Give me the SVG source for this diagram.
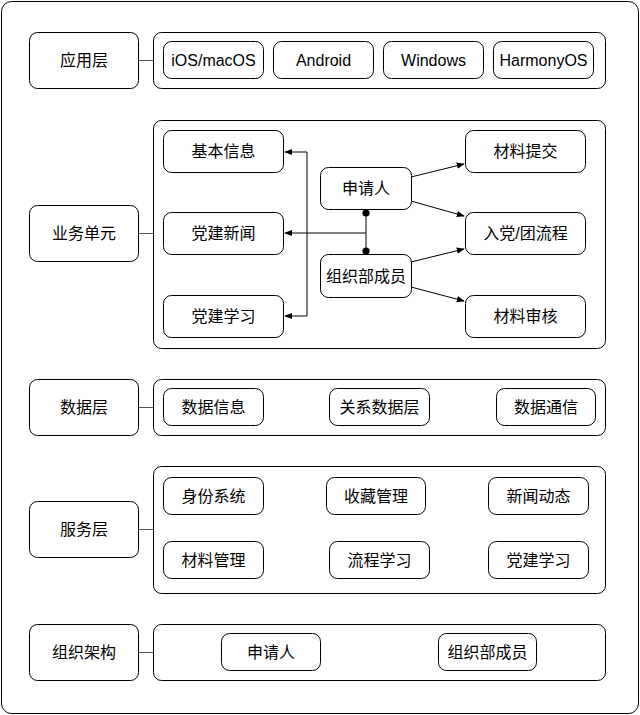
<svg xmlns="http://www.w3.org/2000/svg" width="640" height="715" viewBox="0 0 640 715">
<defs>
<style>
.b{fill:#fff;stroke:#000;stroke-width:1}
.t{font-family:"Liberation Sans","Noto Sans CJK SC",sans-serif;font-size:16px;fill:#000;text-anchor:middle;dominant-baseline:central}
.c{fill:none;stroke:#000;stroke-width:1}
.g{fill:none;stroke:#555;stroke-width:1}
</style>
<marker id="ar" viewBox="0 0 10 10" refX="9" refY="5" markerWidth="8" markerHeight="8" orient="auto" markerUnits="userSpaceOnUse"><path d="M0,1 L10,5 L0,9 Z" fill="#000"/></marker>
<marker id="dot" viewBox="0 0 10 10" refX="5" refY="5" markerWidth="8" markerHeight="8" markerUnits="userSpaceOnUse"><circle cx="5" cy="5" r="4.5" fill="#000"/></marker>
</defs>
<rect x="1.5" y="1.5" width="637" height="712" rx="10" class="b"/>

<g id="layer-app"><rect x="29.5" y="32.5" width="109" height="56" rx="8" class="b"/><text x="84" y="60" class="t">应用层</text></g>
<g id="app-container"><rect x="153.5" y="32.5" width="452" height="56" rx="8" class="b"/></g>
<g id="ios"><rect x="163.5" y="41.5" width="100" height="37" rx="8" class="b"/><text x="213.5" y="60" class="t">iOS/macOS</text></g>
<g id="android"><rect x="273.5" y="41.5" width="100" height="37" rx="8" class="b"/><text x="323.5" y="60" class="t">Android</text></g>
<g id="windows"><rect x="383.5" y="41.5" width="100" height="37" rx="8" class="b"/><text x="433.5" y="60" class="t">Windows</text></g>
<g id="harmony"><rect x="493.5" y="41.5" width="100" height="37" rx="8" class="b"/><text x="543.5" y="60" class="t">HarmonyOS</text></g>

<g id="layer-biz"><rect x="29.5" y="205.5" width="109" height="56" rx="8" class="b"/><text x="84" y="233" class="t">业务单元</text></g>
<g id="biz-container"><rect x="153.5" y="120.5" width="452" height="228" rx="8" class="b"/></g>
<g id="jbxx"><rect x="163.5" y="130.5" width="120" height="42" rx="8" class="b"/><text x="223.5" y="151.5" class="t">基本信息</text></g>
<g id="djxw"><rect x="163.5" y="212.5" width="120" height="42" rx="8" class="b"/><text x="223.5" y="233.5" class="t">党建新闻</text></g>
<g id="djxx"><rect x="163.5" y="295.5" width="120" height="42" rx="8" class="b"/><text x="223.5" y="316.5" class="t">党建学习</text></g>
<g id="sqr"><rect x="320.5" y="167.5" width="91" height="42" rx="8" class="b"/><text x="366" y="188.5" class="t">申请人</text></g>
<g id="zzbcy"><rect x="320.5" y="254.5" width="91" height="43" rx="8" class="b"/><text x="366" y="276" class="t">组织部成员</text></g>
<g id="cltj"><rect x="465.5" y="130.5" width="120" height="42" rx="8" class="b"/><text x="525.5" y="151.5" class="t">材料提交</text></g>
<g id="rdlc"><rect x="465.5" y="212.5" width="120" height="42" rx="8" class="b"/><text x="525.5" y="233.5" class="t">入党/团流程</text></g>
<g id="clsh"><rect x="465.5" y="295.5" width="120" height="42" rx="8" class="b"/><text x="525.5" y="316.5" class="t">材料审核</text></g>

<g id="layer-data"><rect x="29.5" y="379.5" width="109" height="56" rx="8" class="b"/><text x="84" y="407" class="t">数据层</text></g>
<g id="data-container"><rect x="153.5" y="379.5" width="452" height="56" rx="8" class="b"/></g>
<g id="sjxx"><rect x="163.5" y="388.5" width="100" height="37" rx="8" class="b"/><text x="213.5" y="407" class="t">数据信息</text></g>
<g id="gxsjc"><rect x="329.5" y="388.5" width="100" height="37" rx="8" class="b"/><text x="379.5" y="407" class="t">关系数据层</text></g>
<g id="sjtx"><rect x="496.5" y="388.5" width="99" height="37" rx="8" class="b"/><text x="546" y="407" class="t">数据通信</text></g>

<g id="layer-svc"><rect x="29.5" y="501.5" width="109" height="56" rx="8" class="b"/><text x="84" y="529" class="t">服务层</text></g>
<g id="svc-container"><rect x="153.5" y="466.5" width="452" height="127" rx="8" class="b"/></g>
<g id="sfxt"><rect x="163.5" y="477.5" width="100" height="37" rx="8" class="b"/><text x="213.5" y="496" class="t">身份系统</text></g>
<g id="scgl"><rect x="326.5" y="477.5" width="99" height="37" rx="8" class="b"/><text x="376" y="496" class="t">收藏管理</text></g>
<g id="xwdt"><rect x="488.5" y="477.5" width="100" height="37" rx="8" class="b"/><text x="538.5" y="496" class="t">新闻动态</text></g>
<g id="clgl"><rect x="163.5" y="541.5" width="100" height="37" rx="8" class="b"/><text x="213.5" y="560" class="t">材料管理</text></g>
<g id="lcxx"><rect x="329.5" y="541.5" width="100" height="37" rx="8" class="b"/><text x="379.5" y="560" class="t">流程学习</text></g>
<g id="djxx2"><rect x="488.5" y="541.5" width="100" height="37" rx="8" class="b"/><text x="538.5" y="560" class="t">党建学习</text></g>

<g id="layer-org"><rect x="29.5" y="624.5" width="109" height="56" rx="8" class="b"/><text x="84" y="652" class="t">组织架构</text></g>
<g id="org-container"><rect x="153.5" y="624.5" width="452" height="56" rx="8" class="b"/></g>
<g id="org-sqr"><rect x="221.5" y="633.5" width="99" height="37" rx="8" class="b"/><text x="271" y="652" class="t">申请人</text></g>
<g id="org-zzbcy"><rect x="438.5" y="633.5" width="98" height="37" rx="8" class="b"/><text x="487.5" y="652" class="t">组织部成员</text></g>

<g id="connectors">
<line x1="139" y1="60.5" x2="153" y2="60.5" class="g"/>
<line x1="139" y1="233.5" x2="153" y2="233.5" class="g"/>
<line x1="139" y1="407.5" x2="153" y2="407.5" class="g"/>
<line x1="139" y1="529.5" x2="153" y2="529.5" class="g"/>
<line x1="139" y1="652.5" x2="153" y2="652.5" class="g"/>
<polyline points="366,213 366,233 285,233" class="c" marker-start="url(#dot)" marker-end="url(#ar)"/>
<polyline points="366,251 366,233" class="c" marker-start="url(#dot)"/>
<polyline points="307,233 307,152 285,152" class="c" marker-end="url(#ar)"/>
<polyline points="307,233 307,316 285,316" class="c" marker-end="url(#ar)"/>
<line x1="411" y1="177" x2="464" y2="164" class="c" marker-end="url(#ar)"/>
<line x1="411" y1="201" x2="464" y2="216" class="c" marker-end="url(#ar)"/>
<line x1="411" y1="262" x2="464" y2="249" class="c" marker-end="url(#ar)"/>
<line x1="411" y1="287" x2="464" y2="301" class="c" marker-end="url(#ar)"/>
</g>
</svg>
